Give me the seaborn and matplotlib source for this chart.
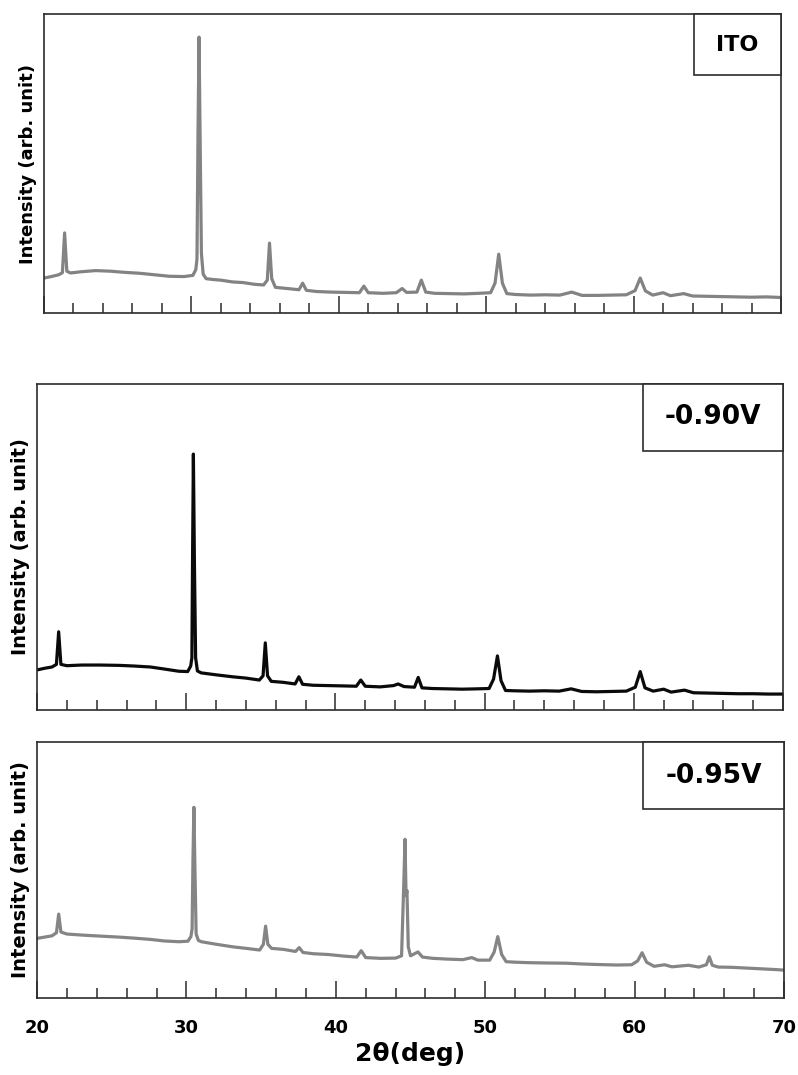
import matplotlib
matplotlib.use("Agg")
import matplotlib.pyplot as plt
from matplotlib.patches import Rectangle
from matplotlib.ticker import MultipleLocator
import seaborn as sns
import pandas as pd

# XRD patterns (2-theta in degrees, intensity in arbitrary units)
ito_2theta = [20.0, 20.5, 21.0, 21.25, 21.4, 21.55, 21.8, 22.5, 23.5, 24.5, 25.5, 26.5, 27.5, 28.5,
              29.5, 30.1, 30.3, 30.38, 30.45, 30.52, 30.6, 30.68, 30.8, 31.0, 31.5, 32.0, 32.8, 33.5,
              34.3, 34.9, 35.15, 35.3, 35.45, 35.7, 36.5, 37.3, 37.55, 37.8, 38.5, 39.5, 40.5, 41.4,
              41.7, 42.0, 43.0, 43.9, 44.3, 44.6, 45.3, 45.6, 45.9, 46.5, 47.5, 48.5, 49.5, 50.3,
              50.6, 50.85, 51.1, 51.4, 52.0, 53.0, 54.0, 55.0, 55.8, 56.5, 57.5, 58.5, 59.5, 60.1,
              60.45, 60.8, 61.3, 62.0, 62.5, 63.4, 64.0, 65.0, 66.0, 67.0, 68.0, 69.0, 70.0]
ito_intensity = [11.7, 12.2, 12.8, 13.5, 26.8, 14.0, 13.4, 13.8, 14.2, 14.0, 13.6, 13.3, 12.8, 12.3,
                 12.2, 12.6, 14.5, 18.0, 60.0, 92.3, 55.0, 20.0, 13.0, 11.5, 11.2, 11.0, 10.4, 10.2,
                 9.6, 9.4, 11.0, 23.4, 11.5, 8.6, 8.2, 7.8, 10.0, 7.6, 7.2, 7.0, 6.9, 6.8,
                 9.0, 6.8, 6.6, 6.8, 8.2, 6.9, 7.0, 11.0, 7.0, 6.6, 6.5, 6.4, 6.6, 6.8,
                 10.0, 19.7, 10.0, 6.5, 6.2, 6.0, 6.1, 6.0, 7.0, 5.9, 5.9, 6.0, 6.1, 7.5,
                 11.7, 7.4, 6.0, 6.8, 5.8, 6.5, 5.7, 5.6, 5.5, 5.4, 5.3, 5.4, 5.2]

v090_2theta = [20.0, 20.5, 21.0, 21.3, 21.45, 21.6, 22.0, 23.0, 24.2, 25.5, 26.5, 27.6, 28.5, 29.5,
               30.1, 30.3, 30.38, 30.43, 30.48, 30.55, 30.63, 30.75, 31.0, 32.0, 33.1, 34.0, 34.9,
               35.15, 35.3, 35.45, 35.7, 36.5, 37.3, 37.55, 37.8, 38.5, 39.5, 40.5, 41.4, 41.7, 42.0,
               43.0, 43.9, 44.2, 44.6, 45.3, 45.55, 45.8, 46.5, 47.5, 48.5, 49.5, 50.3, 50.6, 50.86,
               51.1, 51.4, 52.0, 53.0, 54.0, 55.0, 55.8, 56.5, 57.5, 58.5, 59.5, 60.1, 60.43, 60.75,
               61.3, 62.0, 62.5, 63.4, 64.0, 65.0, 66.0, 67.0, 68.0, 69.0, 70.0]
v090_intensity = [12.3, 12.8, 13.2, 14.0, 24.0, 14.0, 13.6, 13.8, 13.8, 13.7, 13.5, 13.2, 12.6, 11.9,
                  11.8, 13.5, 16.0, 50.0, 78.5, 45.0, 16.0, 12.0, 11.4, 10.8, 10.2, 9.8, 9.2,
                  10.5, 20.6, 10.5, 8.8, 8.5, 8.0, 10.2, 7.9, 7.6, 7.5, 7.4, 7.3, 9.2, 7.3,
                  7.1, 7.5, 8.0, 7.2, 7.0, 10.0, 6.8, 6.6, 6.5, 6.4, 6.5, 6.6, 9.5, 16.6,
                  9.0, 6.0, 5.9, 5.8, 5.9, 5.8, 6.5, 5.7, 5.6, 5.7, 5.8, 7.0, 11.8, 6.8,
                  5.8, 6.4, 5.5, 6.1, 5.3, 5.2, 5.1, 5.0, 5.0, 4.9, 4.9]

v095_2theta = [20.0, 20.5, 21.0, 21.3, 21.45, 21.6, 22.0, 23.0, 24.2, 25.5, 26.5, 27.6, 28.5, 29.5,
               30.1, 30.3, 30.38, 30.44, 30.5, 30.57, 30.65, 30.8, 31.0, 32.0, 33.1, 34.0, 34.9,
               35.15, 35.3, 35.45, 35.7, 36.5, 37.3, 37.55, 37.8, 38.5, 39.5, 40.5, 41.4, 41.7, 42.0,
               43.0, 44.0, 44.4, 44.55, 44.63, 44.7, 44.76, 44.85, 45.0, 45.5, 45.8, 46.5, 47.5,
               48.5, 49.1, 49.5, 50.3, 50.6, 50.84, 51.1, 51.4, 52.0, 53.0, 54.0, 55.45, 56.5, 57.5,
               58.8, 59.8, 60.2, 60.5, 60.8, 61.3, 62.0, 62.5, 63.6, 64.3, 64.8, 65.0, 65.2, 65.6,
               66.5, 67.5, 68.5, 69.5, 70.0]
v095_intensity = [23.3, 23.8, 24.3, 25.5, 32.8, 25.8, 25.0, 24.6, 24.2, 23.8, 23.4, 22.9, 22.3, 22.0,
                  22.2, 24.0, 27.0, 55.0, 74.5, 50.0, 25.0, 22.5, 22.0, 21.0, 20.0, 19.4, 18.75,
                  21.0, 28.1, 21.0, 19.4, 19.0, 18.2, 19.7, 17.8, 17.3, 17.0, 16.4, 16.0, 18.5, 15.8,
                  15.5, 15.6, 16.5, 45.0, 62.0, 40.0, 42.0, 20.0, 16.5, 18.0, 16.0, 15.5, 15.2,
                  15.0, 15.8, 14.8, 14.8, 18.0, 24.0, 17.0, 14.2, 14.0, 13.8, 13.7, 13.6, 13.3, 13.1,
                  12.9, 13.0, 14.5, 17.7, 14.0, 12.4, 13.0, 12.2, 12.8, 12.1, 13.0, 16.1, 12.8, 12.1,
                  12.0, 11.7, 11.4, 11.1, 10.9]

sample_labels = ["ITO", "-0.90V", "-0.95V"]
x_ticks = [20, 30, 40, 50, 60, 70]

sns.set_theme(style="ticks")
plt.rcParams["font.family"] = ["DejaVu Sans"]
plt.rcParams["font.weight"] = "bold"
plt.rcParams["text.color"] = "black"
plt.rcParams["axes.labelcolor"] = "black"
plt.rcParams["xtick.labelcolor"] = "black"

fig = plt.figure(figsize=(7.98, 10.75), dpi=100)

panels = [
    # (axes rect, x, y, colour, label box width/height in axes fraction, label size, ylabel size)
    ([0.0551, 0.7088, 0.9236, 0.2781], ito_2theta, ito_intensity, "#838383", 0.118, 0.204, 16, 13),
    ([0.0464, 0.3395, 0.9348, 0.3033], v090_2theta, v090_intensity, "#0a0a0a", 0.188, 0.2055, 19, 14),
    ([0.0464, 0.0716, 0.9361, 0.2381], v095_2theta, v095_intensity, "#858585", 0.189, 0.262, 19, 14),
]

spine_col = "#2b2b2b"
for i, (rect, xs, ys, col, bw, bh, lsize, ysize) in enumerate(panels):
    ax = fig.add_axes(rect)
    df = pd.DataFrame({"two_theta": xs, "intensity": ys})
    sns.lineplot(data=df, x="two_theta", y="intensity", ax=ax, color=col,
                 linewidth=2.3, estimator=None, sort=False)
    ax.set_xlim(20, 70)
    ax.set_ylim(0, 100)
    ax.set_yticks([])
    ax.xaxis.set_major_locator(MultipleLocator(10))
    ax.xaxis.set_minor_locator(MultipleLocator(2))
    ax.tick_params(axis="x", which="major", direction="in", length=12, width=1.1,
                   color=spine_col, pad=15, labelsize=13, labelcolor="black")
    ax.tick_params(axis="x", which="minor", direction="in", length=7, width=1.1,
                   color=spine_col)
    for s in ax.spines.values():
        s.set_visible(True)
        s.set_color(spine_col)
        s.set_linewidth(1.2)
    ax.set_ylabel("Intensity (arb. unit)", fontsize=ysize, fontweight="bold",
                  labelpad=5, color="black")
    if i < 2:
        ax.tick_params(axis="x", which="both", labelbottom=False)
        ax.set_xlabel("")
    else:
        ax.set_xticks(x_ticks)
        ax.set_xticklabels([str(t) for t in x_ticks], fontweight="bold")
        ax.set_xlabel("2θ(deg)", fontsize=18, fontweight="bold", labelpad=4, color="black")

    # sample label in a box pinned to the upper right corner
    ax.add_patch(Rectangle((1 - bw, 1 - bh), bw, bh, transform=ax.transAxes,
                           facecolor="white", edgecolor=spine_col, linewidth=1.2,
                           clip_on=False, zorder=5))
    ax.text(1 - bw / 2, 1 - bh / 2, sample_labels[i], transform=ax.transAxes,
            ha="center", va="center", fontsize=lsize, fontweight="bold",
            color="black", zorder=6)

fig.savefig("out.png", dpi=100)
